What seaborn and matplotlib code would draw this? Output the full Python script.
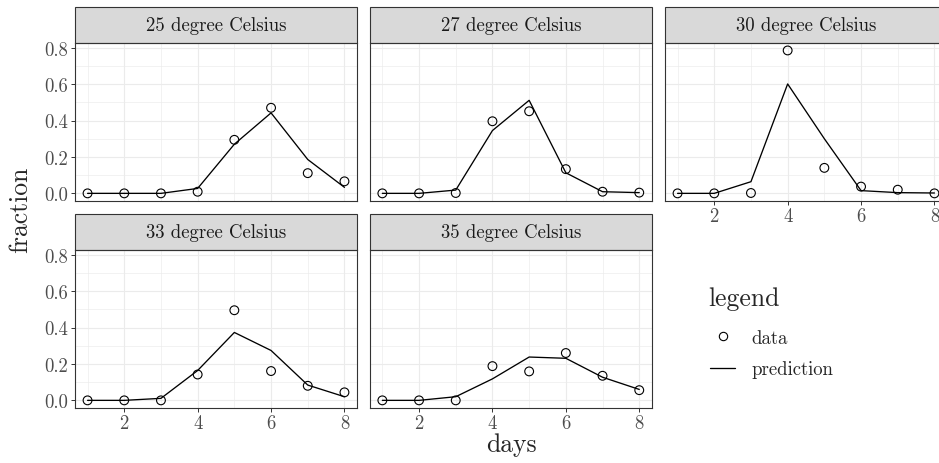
import matplotlib
matplotlib.use("Agg")
import matplotlib.pyplot as plt
from matplotlib.lines import Line2D
from matplotlib.patches import Rectangle
from matplotlib.ticker import FormatStrFormatter
import pandas as pd
import seaborn as sns

days = [1, 2, 3, 4, 5, 6, 7, 8]
panels = ["25 degree Celsius", "27 degree Celsius", "30 degree Celsius",
          "33 degree Celsius", "35 degree Celsius"]

data_25 = [0.0, 0.0, 0.0, 0.009, 0.294, 0.470, 0.111, 0.066]
pred_25 = [0.0, 0.0, 0.0, 0.027, 0.270, 0.442, 0.186, 0.033]
data_27 = [0.0, 0.0, 0.002, 0.396, 0.451, 0.133, 0.009, 0.004]
pred_27 = [0.0, 0.0, 0.018, 0.345, 0.511, 0.113, 0.009, 0.004]
data_30 = [0.0, 0.0, 0.002, 0.785, 0.140, 0.037, 0.020, 0.0]
pred_30 = [0.0, 0.0, 0.064, 0.601, 0.300, 0.015, 0.004, 0.002]
data_33 = [0.0, 0.0, 0.0, 0.142, 0.495, 0.161, 0.080, 0.044]
pred_33 = [0.0, 0.0, 0.011, 0.164, 0.373, 0.274, 0.084, 0.020]
data_35 = [0.0, 0.0, 0.0, 0.188, 0.159, 0.260, 0.135, 0.056]
pred_35 = [0.0, 0.0, 0.020, 0.118, 0.238, 0.231, 0.127, 0.060]

x_major = [2, 4, 6, 8]
x_minor = [1, 3, 5, 7]
y_major = [0.0, 0.2, 0.4, 0.6, 0.8]
y_minor = [0.1, 0.3, 0.5, 0.7]

observed = [data_25, data_27, data_30, data_33, data_35]
predicted = [pred_25, pred_27, pred_30, pred_33, pred_35]
rows = []
for name, obs, pred in zip(panels, observed, predicted):
    for d, o, p in zip(days, obs, pred):
        rows.append({"panel": name, "day": d, "data": o, "prediction": p})
df = pd.DataFrame(rows)

sns.set_theme(style="white")
plt.rcParams["font.family"] = "cmr10"
plt.rcParams["mathtext.fontset"] = "cm"
plt.rcParams["axes.unicode_minus"] = False

small = 13.5
big = 18.5

g = sns.FacetGrid(df, col="panel", col_wrap=3, col_order=panels,
                  sharex=True, sharey=True, height=2, aspect=1.5)
g.map_dataframe(sns.lineplot, x="day", y="prediction", color="black", linewidth=0.95)
g.map_dataframe(sns.scatterplot, x="day", y="data", s=40, marker="o",
                facecolor="none", edgecolor="black", linewidth=0.8, zorder=4)
fig = g.figure
fig.set_size_inches(9.39, 4.64)

W, H = 939.0, 464.0
pw, ph = 282.6, 157.2
lefts = [74.7, 369.5, 664.7]
tops = [44.3, 251.3]
strip_h = 36.5

ymax = max(df["data"].max(), df["prediction"].max())
ylim = (-0.05 * ymax, ymax * 1.05)

for i, ax in enumerate(g.axes.flat):
    r, c = divmod(i, 3)
    x0 = lefts[c] / W
    y0 = 1 - (tops[r] + ph) / H
    ax.set_position([x0, y0, pw / W, ph / H])
    ax.set_xlim(0.65, 8.35)
    ax.set_ylim(*ylim)
    ax.set_xticks(x_major)
    ax.set_xticks(x_minor, minor=True)
    ax.set_yticks(y_major)
    ax.set_yticks(y_minor, minor=True)
    ax.yaxis.set_major_formatter(FormatStrFormatter("%.1f"))
    ax.grid(True, which="major", color="#EBEBEB", linewidth=0.8)
    ax.grid(True, which="minor", color="#EBEBEB", linewidth=0.45)
    ax.set_axisbelow(True)
    for s in ax.spines.values():
        s.set_visible(True)
        s.set_color("#333333")
        s.set_linewidth(0.8)
    ax.tick_params(axis="both", which="major", length=3, width=0.7, color="#333333",
                   labelsize=small, labelcolor="#4D4D4D", pad=1.8)
    ax.tick_params(axis="both", which="minor", length=0)
    show_x = i >= 2
    show_y = c == 0
    ax.tick_params(axis="x", which="major", bottom=show_x, labelbottom=show_x)
    ax.tick_params(axis="y", which="major", left=show_y, labelleft=show_y)
    ax.set_xlabel("")
    ax.set_ylabel("")
    ax.set_title("")
    h = strip_h / ph
    ax.add_patch(Rectangle((0, 1), 1, h, transform=ax.transAxes, clip_on=False,
                           facecolor="#D9D9D9", edgecolor="#333333", linewidth=0.8))
    ax.text(0.5, 1 + h / 2, panels[i], transform=ax.transAxes, ha="center",
            va="center", fontsize=small, color="#1A1A1A")

fig.text(20 / W, 1 - 210 / H, "fraction", rotation=90, ha="center", va="center",
         fontsize=big)
fig.text(511 / W, 1 - 445 / H, "days", ha="center", va="center", fontsize=big)

# legend: title drawn separately so the gap to the entries matches ggplot
fig.text(708 / W, 1 - 306 / H, "legend", ha="left", va="baseline", fontsize=big)
handles = [
    Line2D([], [], marker="o", linestyle="none", markerfacecolor="none",
           markeredgecolor="black", markersize=6, markeredgewidth=0.8),
    Line2D([], [], color="black", linewidth=0.95),
]
fig.legend(handles, ["data", "prediction"], loc="upper left",
           bbox_to_anchor=(685 / W, 1 - 305 / H), frameon=False, fontsize=small,
           handlelength=1.35, handletextpad=0.85, labelspacing=0.72,
           borderpad=0.83)

fig.savefig("out.png", dpi=100)
